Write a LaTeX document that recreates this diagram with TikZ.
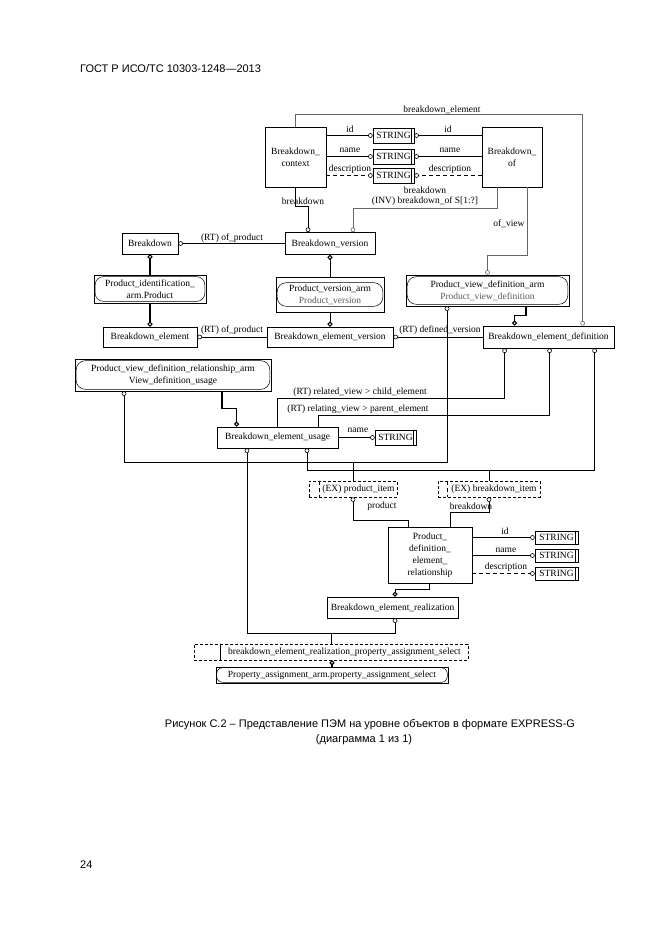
\documentclass[tikz,border=0pt]{standalone}
\usepackage{fontspec}
\setmainfont{Liberation Sans}
\newfontfamily\dgfont{Liberation Serif}
\usetikzlibrary{arrows.meta,calc}
\newcommand\dgsize{\dgfont\fontsize{9.5}{12}\selectfont}
\newcommand\strbar[1]{\draw[line width=0.5pt] ($(#1.north east)+(-3.5,0)$) -- ($(#1.south east)+(-3.5,0)$);}
\newcommand\armin[2]{\draw[line width=0.5pt,rounded corners=#2] ($(#1.south west)+(1.5,-2)$) rectangle ($(#1.north east)+(-1.5,2)$);}
\begin{document}
\begin{tikzpicture}[x=1pt,y=-1pt,
  ent/.style={draw,line width=0.8pt,inner sep=0pt,align=center,font=\dgsize},
  arm/.style={draw,line width=0.6pt,inner sep=0pt,align=center,font=\dgsize},
  strbox/.style={draw,line width=0.6pt,inner sep=0pt,minimum width=41pt,minimum height=15pt,font=\dgsize},
  sel/.style={draw,dash pattern=on 3pt off 2pt,line width=0.6pt,inner sep=0pt,minimum height=16pt,font=\dgsize},
  lab/.style={font=\dgsize,inner sep=0pt},
  ln/.style={line width=0.6pt},
  gln/.style={line width=0.6pt,draw=black!60},
  dsh/.style={dash pattern=on 4pt off 3pt},
  thk/.style={line width=1.6pt},
  med/.style={line width=0.9pt},
  toC/.style={-{Circle[open,length=4.6pt,width=4.6pt,line width=0.6pt]}},
  fromC/.style={{Circle[open,length=4.6pt,width=4.6pt,line width=0.6pt]}-},
  bothC/.style={{Circle[open,length=4.6pt,width=4.6pt,line width=0.6pt]}-{Circle[open,length=4.6pt,width=4.6pt,line width=0.6pt]}},
  toCk/.style={-{Circle[open,length=5pt,width=5pt,line width=1.1pt]}},
  fromCk/.style={{Circle[open,length=5pt,width=5pt,line width=1.1pt]}-},
]
\fill[white] (0,0) rectangle (661,936);
\useasboundingbox (0,0) rectangle (661,936);

% header, caption, page number
\node[anchor=base west,inner sep=0pt,font=\fontsize{11}{13}\selectfont] (hdr) at (80,73) {ГОСТ Р ИСО/ТС 10303-1248—2013};
\node[anchor=base,inner sep=0pt,font=\fontsize{11}{13}\selectfont] (cap1) at (370,727) {Рисунок С.2 – Представление ПЭМ на уровне объектов в формате EXPRESS-G};
\node[anchor=base,inner sep=0pt,font=\fontsize{11}{13}\selectfont] (cap2) at (364,742) {(диаграмма 1 из 1)};
\node[anchor=base west,inner sep=0pt,font=\fontsize{11}{13}\selectfont] (pg) at (80,868) {24};

% nodes
\node[ent,minimum width=61pt,minimum height=60pt] (ctx) at (295.5,157) {Breakdown\_\\context};
\node[ent,minimum width=60pt,minimum height=60pt] (bof) at (512,157) {Breakdown\_\\of};
\node[strbox] (s1) at (393.5,135.5) {STRING\hspace{3pt}};
\node[strbox] (s2) at (393.5,156.5) {STRING\hspace{3pt}};
\node[strbox] (s3) at (393.5,175.5) {STRING\hspace{3pt}};
\strbar{s1}\strbar{s2}\strbar{s3}
\node[ent,minimum width=56pt,minimum height=21pt] (bd) at (150,243.5) {Breakdown};
\node[ent,minimum width=90pt,minimum height=22pt] (bv) at (330,243.5) {Breakdown\_version};
\node[arm,minimum width=112pt,minimum height=28pt] (pia) at (150,289) {Product\_identification\_\\arm.Product};
\armin{pia}{8pt}
\node[arm,minimum width=108pt,minimum height=35pt] (pva) at (330,294.5) {Product\_version\_arm\\\textcolor{black!65}{Product\_version}};
\draw[line width=0.5pt,rounded corners=9pt] ($(pva.south west)+(1.5,-6)$) rectangle ($(pva.north east)+(-1.5,6)$);
\node[arm,minimum width=163pt,minimum height=31pt] (pvda) at (487.5,290.5) {Product\_view\_definition\_arm\\\textcolor{black!65}{Product\_view\_definition}};
\armin{pvda}{9pt}
\node[ent,minimum width=94pt,minimum height=20pt] (be) at (150,337) {Breakdown\_element};
\node[ent,minimum width=126pt,minimum height=20pt] (bev) at (330,337) {Breakdown\_element\_version};
\node[ent,minimum width=131pt,minimum height=22pt] (bed) at (548.5,337) {Breakdown\_element\_definition};
\node[arm,minimum width=196pt,minimum height=32pt] (pvdra) at (173,375) {Product\_view\_definition\_relationship\_arm\\View\_definition\_usage};
\armin{pvdra}{9pt}
\node[ent,minimum width=121pt,minimum height=21pt] (beu) at (277.5,437.5) {Breakdown\_element\_usage};
\node[strbox] (s4) at (395.5,437.5) {STRING\hspace{3pt}};
\strbar{s4}
\node[sel,minimum width=88pt] (pit) at (353,489) {\hspace{11pt}(EX) product\_item};
\node[sel,minimum width=102pt] (bit) at (489,489) {\hspace{10pt}(EX) breakdown\_item};
\draw[ln,dsh] ($(pit.north west)+(11,0)$) -- ($(pit.south west)+(11,0)$);
\draw[ln,dsh] ($(bit.north west)+(10,0)$) -- ($(bit.south west)+(10,0)$);
\node[ent,minimum width=84pt,minimum height=56pt] (pder) at (430,555) {Product\_\\definition\_\\element\_\\relationship};
\node[strbox,minimum width=43pt,minimum height=13pt] (s5) at (556.5,537.5) {STRING\hspace{3pt}};
\node[strbox,minimum width=43pt,minimum height=13pt] (s6) at (556.5,555.5) {STRING\hspace{3pt}};
\node[strbox,minimum width=43pt,minimum height=13pt] (s7) at (556.5,573.5) {STRING\hspace{3pt}};
\strbar{s5}\strbar{s6}\strbar{s7}
\node[ent,line width=0.5pt,minimum width=131pt,minimum height=21pt] (ber) at (392.5,607.5) {Breakdown\_element\_realization};
\node[sel,minimum width=274pt] (rsel) at (331,652) {\hspace{27pt}breakdown\_element\_realization\_property\_assignment\_select};
\draw[ln] ($(rsel.north west)+(27,0)$) -- ($(rsel.south west)+(27,0)$);
\node[arm,minimum width=232pt,minimum height=16pt] (paa) at (332,675) {Property\_assignment\_arm.property\_assignment\_select};
\draw[line width=0.5pt,rounded corners=6pt] ($(paa.south west)+(1,-1)$) rectangle ($(paa.north east)+(-1,1)$);

% top connectors
\draw[ln,toC] (ctx.east |- s1.west) -- (s1.west);
\draw[ln,toC] (bof.west |- s1.east) -- (s1.east);
\draw[ln,toC] (ctx.east |- s2.west) -- (s2.west);
\draw[ln,toC] (bof.west |- s2.east) -- (s2.east);
\draw[ln,dsh,toC] (ctx.east |- s3.west) -- (s3.west);
\draw[ln,dsh,toC] (bof.west |- s3.east) -- (s3.east);
\node[lab] (l1) at (350,129) {id};
\node[lab] (l2) at (448,129) {id};
\node[lab] (l3) at (350,150) {name};
\node[lab] (l4) at (450,150) {name};
\node[lab] (l5) at (350,169) {description};
\node[lab] (l6) at (450,169) {description};

\draw[gln,toC] (ctx.north) -- ++(0,-12) -| ($(bed.north west)+(100,0)$);
\node[lab] (l7) at (442,110) {breakdown\_element};

\coordinate (j1) at (308,206);
\draw[ln,toC] (ctx.south) |- (j1) -- (j1 |- bv.north);
\node[lab] (l8) at (303,201) {breakdown};

\coordinate (j2) at (497,208);
\draw[gln,toC] (j2 |- bof.south) -- (j2) -| ($(bv.north)+(23,0)$);
\node[lab] (l9) at (425,190) {breakdown};
\node[lab] (l10) at (425,201) {(INV) breakdown\_of S[1:?]};

\coordinate (j3) at (527,255);
\draw[gln,toC] (j3 |- bof.south) -- (j3) -| (pvda.north);
\node[lab] (l11) at (509,224) {of\_view};

\draw[ln,toC] (bv.west) -- (bd.east);
\node[lab] (l12) at (232,238) {(RT) of\_product};

\draw[thk,toCk] (pia.north) -- (bd.south);
\draw[thk,toCk] (pia.south) -- (be.north);
\draw[med,toCk] (pva.north) -- (bv.south);
\draw[med,toCk] (pva.south) -- (bev.north);

\draw[ln,toC] (bev.west) -- (be.east);
\node[lab] (l13) at (232,330) {(RT) of\_product};
\draw[ln,toC] (bed.west) -- (bev.east);
\node[lab] (l14) at (440,330) {(RT) defined\_version};

\draw[thk,toCk] ($(pvda.south)+(38.5,0)$) -- ++(0,9) -| ($(bed.north west)+(32,0)$);

\coordinate (h1) at (124,462);
\coordinate (h2) at (447,462);
\draw[ln,bothC] (h1 |- pvdra.south) -- (h1) -- (h2) -- (h2 |- pvda.south);
\draw[ln] (pit.north |- h1) -- (pit.north);

\coordinate (k1) at (277,398);
\draw[ln,fromC] ($(bed.south west)+(22,0)$) |- (k1) -- (k1 |- beu.north);
\coordinate (k2) at (318,415);
\draw[ln,fromC] ($(bed.south west)+(67,0)$) |- (k2) -- (k2 |- beu.north);
\coordinate (k3) at (307,470);
\draw[ln,bothC] ($(bed.south west)+(112,0)$) |- (k3) -- (k3 |- beu.south);
\draw[ln] (bit.north |- k3) -- (bit.north);
\node[lab] (l15) at (360,392) {(RT) related\_view > child\_element};
\node[lab] (l16) at (358,409) {(RT) relating\_view > parent\_element};

\draw[ln,toC] (beu.east) -- (s4.west);
\node[lab] (l17) at (358,430) {name};

\draw[thk,toCk] ($(pvdra.south)+(49,0)$) -- ++(0,17) -| ($(beu.north west)+(20,0)$);

\coordinate (m1) at (247,633);
\draw[ln,bothC] (m1 |- beu.south) -- (m1) -| ($(ber.south)+(2.5,0)$);
\draw[ln] (rsel.north |- m1) -- (rsel.north);
\draw[thk,fromCk] (paa.north |- rsel.south) -- (paa.north);

\coordinate (n1) at (408,520);
\draw[ln,fromC] (pit.south) |- (n1) -- (n1 |- pder.north);
\coordinate (n2) at (450,512);
\draw[ln,fromC] (bit.south) |- (n2) -- (n2 |- pder.north);
\node[lab] (l18) at (382,506) {product};
\node[lab] (l19) at (471,506) {breakdown};

\draw[ln,toC] (pder.east |- s5.west) -- (s5.west);
\draw[ln,toC] (pder.east |- s6.west) -- (s6.west);
\draw[ln,dsh,toC] (pder.east |- s7.west) -- (s7.west);
\node[lab] (l20) at (505,531) {id};
\node[lab] (l21) at (506,550) {name};
\node[lab] (l22) at (506,567) {description};

\draw[med,toCk] ($(pder.south)+(-1,0)$) -- ++(0,6) -| ($(ber.north)+(2.5,0)$);
\end{tikzpicture}
\end{document}
